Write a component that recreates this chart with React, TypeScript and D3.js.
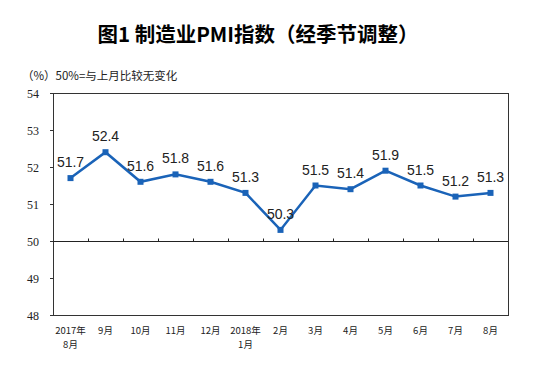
// 制造业PMI指数（经季节调整）line chart
import React, { useEffect, useRef } from 'react';
import * as d3 from 'd3';

const months: string[][] = [
  ['2017年', '8月'], ['9月'], ['10月'], ['11月'], ['12月'], ['2018年', '1月'],
  ['2月'], ['3月'], ['4月'], ['5月'], ['6月'], ['7月'], ['8月'],
];
const pmi = [51.7, 52.4, 51.6, 51.8, 51.6, 51.3, 50.3, 51.5, 51.4, 51.9, 51.5, 51.2, 51.3];
const yTicks = [48, 49, 50, 51, 52, 53, 54];

const App: React.FC = () => {
  const svgRef = useRef<SVGSVGElement>(null);

  useEffect(() => {
    const svg = d3.select(svgRef.current);
    svg.selectAll('*').remove();

    const width = 539;
    const height = 373;
    const margin = { top: 93, right: 31, bottom: 58, left: 53 };
    const blue = '#1a63b8';

    const x = d3
      .scaleBand<number>()
      .domain(d3.range(months.length))
      .range([margin.left, width - margin.right]);

    const y = d3
      .scaleLinear()
      .domain([48, 54])
      .range([height - margin.bottom, margin.top]);

    // title
    svg
      .append('text')
      .attr('x', 258)
      .attr('y', 42)
      .attr('text-anchor', 'middle')
      .style('font-family', '"Noto Sans CJK SC", sans-serif')
      .style('font-size', '20.5px')
      .style('font-weight', '700')
      .text('图1 制造业PMI指数（经季节调整）');

    svg
      .append('text')
      .attr('x', 22)
      .attr('y', 80)
      .style('font-family', '"Noto Sans CJK SC", sans-serif')
      .style('font-size', '11.5px')
      .attr('fill', '#222')
      .text('（%）50%=与上月比较无变化');

    // plot box
    svg
      .append('rect')
      .attr('x', margin.left + 0.5)
      .attr('y', margin.top + 0.5)
      .attr('width', width - margin.left - margin.right)
      .attr('height', height - margin.top - margin.bottom)
      .attr('fill', 'none')
      .attr('stroke', '#333')
      .attr('stroke-width', 1);

    // y axis ticks and labels
    const yAxis = svg.append('g');
    yTicks.forEach((t) => {
      yAxis
        .append('line')
        .attr('x1', margin.left - 3)
        .attr('x2', margin.left)
        .attr('y1', Math.round(y(t)) + 0.5)
        .attr('y2', Math.round(y(t)) + 0.5)
        .attr('stroke', '#333');
      yAxis
        .append('text')
        .attr('x', 39)
        .attr('y', y(t) + 5)
        .attr('text-anchor', 'end')
        .style('font-family', '"Liberation Serif", serif')
        .style('font-size', '12px')
        .attr('fill', '#222')
        .text(t);
    });

    // 50 baseline with category ticks
    const y50 = Math.round(y(50)) + 0.5;
    svg
      .append('line')
      .attr('x1', margin.left)
      .attr('x2', width - margin.right)
      .attr('y1', y50)
      .attr('y2', y50)
      .attr('stroke', '#222');
    d3.range(1, months.length).forEach((i) => {
      const bx = Math.round(x(i) as number) + 0.5;
      svg
        .append('line')
        .attr('x1', bx)
        .attr('x2', bx)
        .attr('y1', y50)
        .attr('y2', y50 - 3)
        .attr('stroke', '#222');
    });

    // x labels
    months.forEach((lines, i) => {
      const cx = (x(i) as number) + x.bandwidth() / 2;
      const t = svg
        .append('text')
        .attr('text-anchor', 'middle')
        .style('font-family', '"Noto Sans CJK SC", serif')
        .style('font-size', '9.5px')
        .attr('fill', '#222');
      lines.forEach((l, j) => {
        t.append('tspan')
          .attr('x', cx)
          .attr('y', 334 + j * 14)
          .text(l);
      });
    });

    const cxOf = (i: number) => (x(i) as number) + x.bandwidth() / 2;

    const line = d3
      .line<number>()
      .x((_, i) => cxOf(i))
      .y((d) => y(d));

    svg
      .append('path')
      .datum(pmi)
      .attr('fill', 'none')
      .attr('stroke', blue)
      .attr('stroke-width', 2.5)
      .attr('stroke-linejoin', 'miter')
      .attr('d', line);

    svg
      .append('g')
      .selectAll('rect')
      .data(pmi)
      .join('rect')
      .attr('x', (_, i) => cxOf(i) - 3)
      .attr('y', (d) => y(d) - 3)
      .attr('width', 6)
      .attr('height', 6)
      .attr('fill', blue);

    svg
      .append('g')
      .selectAll('text')
      .data(pmi)
      .join('text')
      .attr('x', (_, i) => cxOf(i))
      .attr('y', (d) => y(d) - 11)
      .attr('text-anchor', 'middle')
      .style('font-family', '"Liberation Sans", Arial, sans-serif')
      .style('font-size', '14px')
      .attr('fill', '#222')
      .text((d) => d.toFixed(1));
  }, []);

  return (
    <div style={{ width: 539, height: 373 }}>
      <svg ref={svgRef} width={539} height={373} style={{ position: 'absolute', left: 0, top: 0 }} />
    </div>
  );
};

export default App;
